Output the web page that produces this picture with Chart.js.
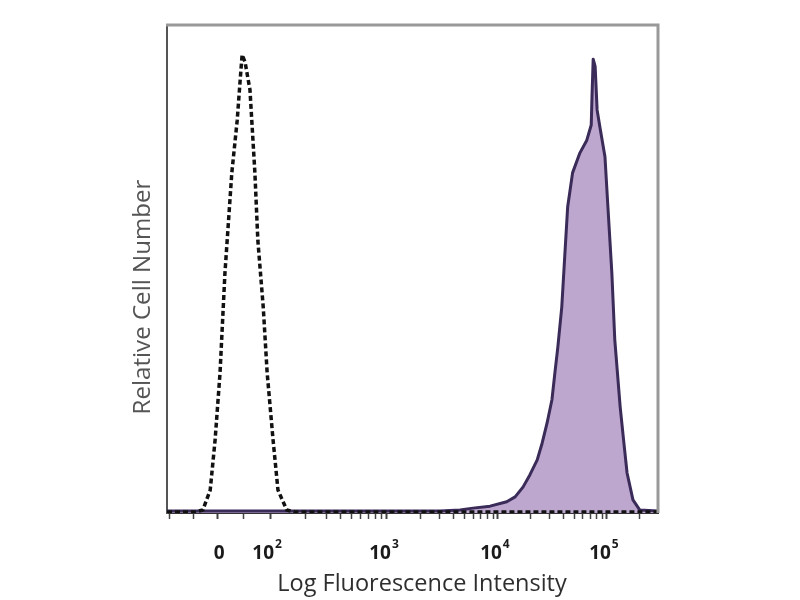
<!DOCTYPE html>
<html>
<head>
<meta charset="utf-8">
<script src="https://cdn.jsdelivr.net/npm/chart.js@4.4.1/dist/chart.umd.min.js"></script>
<style>
  html, body { margin: 0; padding: 0; background: #fff; }
  #wrap { width: 800px; height: 600px; }
</style>
</head>
<body>
<div id="wrap"><canvas id="chart" width="800" height="600"></canvas></div>
<script>
// ---------- data (x in display channels 0..1000, y in % of max) ----------
// isotype control (dashed)
const isoX = [0, 57, 73, 88, 98, 108, 118, 132, 143, 149, 153, 159, 169, 179, 185, 196, 204, 216, 226, 244, 261, 1000];
const isoY = [0.2, 0.2, 0.6, 4.7, 15.0, 28.7, 49.2, 69.7, 80.5, 88.7, 93.9, 92.4, 86.7, 69.7, 55.9, 42.2, 28.7, 15.0, 4.7, 0.6, 0.2, 0.2];

// stained sample (filled)
const stainX = [0, 556, 597, 623, 658, 692, 709, 725, 739, 754, 764, 774, 784, 790, 796, 804, 810, 816, 826, 841,
                855, 864, 866, 868, 872, 876, 882, 892, 898, 906, 912, 923, 931, 937, 949, 963, 1000];
const stainY = [0.4, 0.4, 0.6, 1.0, 1.4, 2.3, 3.3, 5.3, 7.8, 10.9, 14.3, 18.4, 23.2, 28.7, 34.0, 42.2, 52.5, 62.7, 69.7, 73.8,
                76.4, 79.5, 86.7, 93.0, 91.5, 82.6, 78.9, 73.0, 62.7, 49.2, 35.5, 21.7, 13.9, 8.2, 2.7, 0.6, 0.4];

// axis ticks: channel positions of 0, 10^2 .. 10^5 and their labels
const tickPos = [102, 210, 448, 674, 896];
const tickBase = ["0", "10", "10", "10", "10"];
const tickExp = ["", "2", "3", "4", "5"];
const lowMinorTicks = [6, 53, 155];

const xTitle = "Log Fluorescence Intensity";
const yTitle = "Relative Cell Number";

// minor log ticks between decades (2..9 x 10^n)
const minorTicks = [...lowMinorTicks];
for (let d = 1; d < tickPos.length; d++) {
  const start = tickPos[d];
  const w = d < tickPos.length - 1 ? tickPos[d + 1] - tickPos[d] : 222;
  for (let k = 2; k <= 9; k++) {
    const v = start + Math.log10(k) * w;
    if (v < 1000) minorTicks.push(Math.round(v));
  }
}
const allTicks = [...tickPos, ...minorTicks].sort((a, b) => a - b);

const toPoints = (xs, ys) => xs.map((x, i) => ({ x, y: ys[i] }));

// ---------- plugin: frame, tick labels with superscripts, titles ----------
const decorations = {
  id: "decorations",
  afterDraw(chart) {
    const { ctx, chartArea: a } = chart;
    const xs = chart.scales.x;
    ctx.save();

    // top and right frame lines
    ctx.strokeStyle = "#999";
    ctx.lineWidth = 3;
    ctx.beginPath();
    ctx.moveTo(a.left - 1, a.top);
    ctx.lineTo(a.right, a.top);
    ctx.lineTo(a.right, a.bottom);
    ctx.stroke();

    // tick labels
    ctx.fillStyle = "#1a1a1a";
    ctx.textBaseline = "alphabetic";
    ctx.textAlign = "left";
    const big = 'bold 19px "Open Sans"', small = 'bold 12px "Open Sans"';
    tickPos.forEach((v, i) => {
      const px = xs.getPixelForValue(v);
      ctx.font = big;
      const wb = ctx.measureText(tickBase[i]).width;
      ctx.font = small;
      const we = tickExp[i] ? ctx.measureText(tickExp[i]).width + 1 : 0;
      const cx = tickExp[i] ? px - 3 : px + 2;
      const x0 = cx - (wb + we) / 2;
      ctx.font = big;
      ctx.fillText(tickBase[i], x0, 559);
      if (tickExp[i]) {
        ctx.font = small;
        ctx.fillText(tickExp[i], x0 + wb + 1, 548);
      }
    });

    // axis titles, sized to the reference width
    ctx.textAlign = "center";
    ctx.textBaseline = "middle";
    ctx.font = '20px "Open Sans"';
    let w = ctx.measureText(xTitle).width;
    ctx.font = (20 * 289 / w).toFixed(1) + 'px "Open Sans"';
    ctx.fillStyle = "#2e2e2e";
    ctx.fillText(xTitle, 422, 584);

    ctx.font = '20px "Open Sans"';
    w = ctx.measureText(yTitle).width;
    ctx.font = (20 * 235 / w).toFixed(1) + 'px "Open Sans"';
    ctx.fillStyle = "#555";
    ctx.translate(143, 297);
    ctx.rotate(-Math.PI / 2);
    ctx.fillText(yTitle, 0, 0);
    ctx.restore();
  }
};

new Chart(document.getElementById("chart"), {
  type: "scatter",
  data: {
    datasets: [
      {
        label: "Isotype",
        data: toPoints(isoX, isoY),
        showLine: true,
        borderColor: "#111",
        borderWidth: 3.5,
        borderDash: [5, 3],
        borderJoinStyle: "round",
        pointRadius: 0,
        fill: false,
        tension: 0,
        order: 1
      },
      {
        label: "Stained",
        data: toPoints(stainX, stainY),
        showLine: true,
        borderColor: "#3a2b58",
        borderWidth: 3,
        borderJoinStyle: "round",
        backgroundColor: "#bda7cf",
        pointRadius: 0,
        fill: "origin",
        tension: 0,
        order: 2
      }
    ]
  },
  options: {
    responsive: false,
    animation: false,
    layout: { padding: { left: 122, right: 142, top: 25, bottom: 0 } },
    plugins: { legend: { display: false }, tooltip: { enabled: false } },
    scales: {
      x: {
        type: "linear",
        position: "bottom",
        min: 0,
        max: 1000,
        afterBuildTicks: s => { s.ticks = allTicks.map(v => ({ value: v })); },
        afterFit: s => { s.height = 87; },
        ticks: { display: false, autoSkip: false },
        grid: {
          display: true,
          drawOnChartArea: false,
          drawTicks: true,
          tickLength: 6,
          tickColor: "#444",
          tickWidth: c => tickPos.includes(c.tick.value) ? 2 : 1.5
        },
        border: { color: "#333", width: 2 }
      },
      y: {
        min: 0,
        max: 100,
        afterFit: s => { s.width = 45; },
        ticks: { display: false },
        grid: { display: false },
        border: { color: "#555", width: 2 }
      }
    }
  },
  plugins: [decorations]
});
</script>
</body>
</html>
